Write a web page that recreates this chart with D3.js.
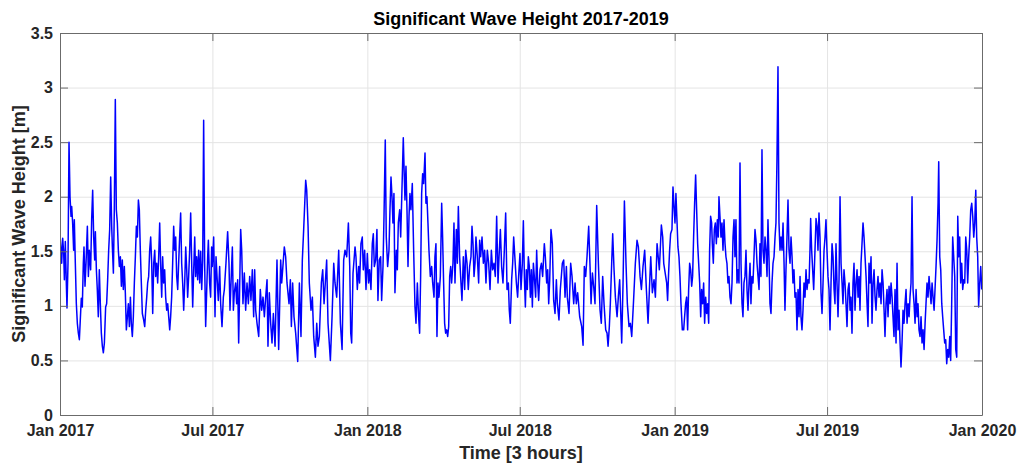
<!DOCTYPE html>
<html>
<head>
<meta charset="utf-8">
<script src="https://cdn.jsdelivr.net/npm/d3@7"></script>
<style>
  html, body { margin: 0; padding: 0; background: #fff; }
  svg { display: block; font-family: "Liberation Sans", Arial, Helvetica, sans-serif; }
</style>
</head>
<body>
<svg id="chart" width="1019" height="466"></svg>
<script>
// Significant wave height samples: [days since 1 Jan 2017, Hs in metres]
const hs2017 = [[0,1.66],[1.2,1.51],[2,1.39],[3.2,1.62],[4.4,1.48],[5.2,1.24],[6.3,1.59],[7.5,1.21],[8.3,0.98],[9.5,1.39],[10.7,2.50],[11.9,2.00],[13.1,1.82],[13.9,1.91],[15,1.76],[16.2,1.51],[17,1.79],[18.2,1.39],[19.4,1.02],[20.6,0.84],[21.8,0.75],[23,0.69],[24.1,0.87],[25.3,1.07],[26.5,0.99],[27.7,1.39],[28.5,1.54],[29.7,1.18],[30.9,1.39],[32.5,1.73],[33.7,1.27],[34.8,1.51],[36.4,1.33],[37.6,1.79],[38.8,2.06],[40,1.63],[41.2,1.42],[42,1.68],[43.2,1.33],[44.3,1.15],[45.5,0.90],[46.7,1.33],[47.9,1.02],[49.1,0.75],[50.3,0.63],[51.5,0.57],[52.7,0.66],[54.2,0.99],[55.4,1.02],[56.6,1.24],[57.8,1.51],[59,1.70],[60.2,2.18],[61.4,1.73],[62.2,1.54],[63.4,1.30],[64.5,1.88],[65.7,2.89],[66.9,1.88],[68.1,1.76],[69.3,1.51],[70.5,1.36],[71.7,1.45],[72.9,1.18],[74,1.42],[75.2,1.15],[76.4,1.36],[77.6,1.12],[78.8,0.78],[80,0.90],[81.2,1.02],[82.4,0.81],[83.6,1.08],[84.7,0.84],[85.9,0.72],[87.1,0.90],[88.3,1.21],[89.5,1.45],[90.7,1.73],[91.9,1.63],[93.1,1.97],[94.2,1.88],[95.4,1.51],[96.6,1.21],[97.8,0.93],[99.4,0.87],[100.6,0.81],[101.8,0.96],[103,1.08],[104.1,1.21],[105.3,1.27],[106.5,1.51],[107.7,1.63],[108.9,1.39],[110.1,0.93],[111.3,1.39],[112.5,1.51],[113.6,1.27],[114.8,1.39],[116,1.21],[117.2,1.45],[118.4,1.76],[119.6,1.36],[120.8,1.08],[121.9,1.45],[123.1,1.21],[124.3,1.33],[125.5,1.08],[126.7,0.96],[127.9,1.02],[129.1,0.90],[130.3,0.78],[131.4,0.90],[132.6,1.08],[133.8,1.39],[135,1.73],[136.2,1.51],[137.4,1.63],[138.6,1.27],[139.8,1.15],[140.9,1.39],[142.1,1.63],[143.3,1.85],[144.5,1.39],[145.7,1.21],[146.9,0.96],[148.1,1.21],[149.3,1.54],[150.5,1.33],[151.6,1.08],[152.8,1.27],[154,1.51],[155.2,1.85],[156.4,1.39],[157.6,0.99],[158.8,1.33],[160,1.63],[161.1,1.27],[162.3,1.45],[163.5,1.24],[164.7,1.51],[165.9,1.21],[167.1,1.50],[168.3,1.15],[169.5,1.42],[170.6,2.70],[171.8,1.39],[173,0.81],[175.4,1.45],[176.2,1.60],[177.7,1.21],[178.9,1.08],[180.1,1.54],[180.9,1.36],[182.5,1.63],[184.1,0.90],[185.3,1.45],[186.9,1.21],[188,1.05],[189.6,1.36],[190.8,1.02],[192.4,0.81],[194,1.08],[195.2,1.15],[197.1,1.39],[199.1,1.68],[200.7,1.39],[201.9,0.96],[203.1,1.21],[204.7,1.54],[205.9,0.96],[207,1.12],[208.6,1.21],[209.8,1.02],[211,1.24],[212.2,0.66],[214.6,1.70],[215.8,1.51],[217.3,1.02],[218.9,1.30],[220.5,0.96],[222.1,1.21],[223.7,1.02],[225.3,1.27],[226.8,1.05],[228.4,1.33],[230,0.90],[231.2,1.33],[232.4,0.96],[234,0.84],[236,0.72],[237.9,1.15],[239.5,0.96],[241.1,1.08],[242.7,0.90],[244.3,1.08],[245.9,1.24],[247,0.63],[248.6,1.12],[250.2,0.84],[251.8,0.66],[253.4,0.93],[255.4,0.63],[257.7,1.42],[259.7,0.60],[262.1,1.42],[263.3,1.21],[266.4,1.54],[268,1.45],[269.6,1.21],[272,1.02],[273.6,1.24],[274.8,0.81],[276.3,1.21],[277.9,0.90],[279.9,0.75],[282.3,0.49],[284.3,1.21],[286.2,0.72],[287.8,1.42],[289.4,1.70],[291.8,2.15],[293,2.06],[294.6,1.73],[296.1,1.21],[298.1,0.96],[299.7,1.08],[301.3,0.72],[303.3,0.53],[304.9,0.84],[306.4,0.63],[308,0.72],[310.4,1.21],[312,1.33],[313.6,1.02],[316.7,1.42],[318.3,0.84],[321.1,0.50],[323.1,0.90],[325.1,1.39],[326.6,1.21],[328.6,1.08],[331,1.51],[333,0.84],[335,0.60],[336.9,1.42],[338.5,1.51],[340.5,1.45],[342.5,1.76],[344.1,1.36],[345.3,0.75],[346.4,0.66],[348,1.30],[350.4,1.54],[351.5,1.45],[353.1,1.15],[354.7,1.36],[355.8,1.21],[357.4,1.57],[359,1.63],[360.2,1.33],[361.8,1.51],[363.4,1.15]];

const hs2018 = [[365,1.48],[366.5,1.21],[367.7,1.33],[369.3,1.15],[370.9,1.57],[372.1,1.66],[373.3,1.36],[374.9,1.42],[376.4,1.70],[377.6,1.05],[379.2,1.42],[380.8,1.45],[382,1.05],[383.6,1.36],[384.8,1.82],[386.3,2.52],[387.5,1.63],[389.1,1.36],[390.7,1.51],[391.9,1.88],[393.1,2.18],[394.3,2.00],[395.4,1.76],[396.6,2.03],[397.8,1.12],[399.4,1.51],[400.6,1.33],[401.8,1.76],[403.4,1.88],[404.6,1.63],[406.1,2.06],[407.7,2.54],[408.9,2.18],[409.7,1.97],[410.9,2.28],[412.1,1.88],[413.3,1.36],[414.5,1.82],[415.6,2.03],[416.8,1.88],[418.4,2.12],[420,1.51],[421.6,0.99],[422.8,0.84],[424.4,1.21],[425.9,0.90],[427.1,0.75],[428.3,1.27],[429.5,2.03],[430.7,2.21],[431.9,2.12],[433.5,2.40],[434.6,1.94],[435.8,2.00],[437,1.76],[438.2,1.51],[439.8,1.27],[441.4,1.36],[442.6,1.21],[444.2,1.08],[445.3,1.45],[446.5,1.57],[447.7,0.72],[448.9,1.21],[450.1,1.08],[451.7,1.27],[453.3,1.94],[454.4,1.63],[455.6,1.21],[456.8,0.84],[458,0.75],[459.2,0.78],[460.4,0.72],[461.6,0.81],[462.8,1.27],[464,1.36],[465.1,1.21],[466.7,1.39],[467.9,1.76],[469.1,1.21],[470.7,1.70],[471.9,1.39],[473.1,1.91],[474.6,1.45],[476.2,1.21],[477.4,1.05],[479,1.45],[480.6,1.15],[481.8,1.51],[483.4,1.39],[484.9,1.15],[486.5,1.36],[488.1,1.45],[489.3,1.73],[490.5,1.57],[491.7,1.27],[492.9,1.39],[494,1.63],[495.6,1.45],[497.2,1.21],[498.4,1.60],[499.6,1.45],[501.2,1.63],[502.8,1.39],[504.3,1.51],[505.9,1.21],[507.5,1.51],[509.1,1.39],[510.7,1.15],[512.3,1.51],[513.8,1.33],[515.4,1.39],[517,1.27],[518.6,1.82],[520.2,1.21],[521.4,1.45],[523,1.70],[524.5,1.36],[526.1,1.21],[527.7,1.51],[529.3,1.85],[530.9,1.15],[532.5,1.21],[533.6,0.96],[534.8,0.84],[536.4,1.24],[537.6,1.39],[538.8,1.63],[542,1.21],[543.5,1.08],[544.7,1.27],[546.3,1.48],[547.5,1.15],[549.1,1.39],[550.3,1.78],[551.5,1.27],[552.7,0.99],[553.8,1.33],[555,1.15],[556.2,1.45],[557.4,1.36],[558.6,1.08],[559.8,1.33],[561,0.99],[562.2,1.39],[563.3,1.27],[564.9,1.08],[566.1,1.51],[567.3,1.21],[568.5,1.05],[570.1,1.33],[571.7,1.39],[573.2,1.27],[575.2,1.57],[576.4,1.45],[578,1.21],[579.2,1.33],[580.4,1.02],[581.6,1.24],[583.1,1.70],[584.7,1.57],[586.3,1.05],[587.9,0.93],[589.5,1.24],[590.7,1.02],[592.6,0.87],[594.2,1.15],[596.6,1.39],[598.2,1.42],[599.8,1.08],[601.4,1.36],[602.5,1.08],[604.5,0.93],[606.5,1.39],[608.1,1.27],[610.1,1.02],[611.7,1.21],[613.2,1.02],[614.8,1.12],[617.2,0.90],[619.6,0.81],[621.2,0.64],[622.7,1.36],[624.3,1.27],[625.9,1.45],[627.9,1.73],[629.5,1.36],[630.7,1.02],[632.3,1.30],[633.8,1.18],[635.4,1.02],[637.4,1.92],[639.4,1.39],[641.4,0.96],[642.9,0.84],[644.5,1.27],[646.1,1.02],[648.1,0.78],[649.7,0.75],[650.9,0.63],[652.4,0.81],[653.6,1.02],[655.2,1.39],[656.4,1.66],[658,1.33],[659.6,1.08],[661.6,0.90],[663.1,1.08],[664.7,1.24],[667.1,0.66],[668.7,1.21],[670.3,1.96],[672.2,1.39],[673.8,1.02],[675.8,0.81],[677.4,0.84],[679,0.72],[681,1.02],[683.3,1.39],[685.3,1.60],[686.9,1.54],[688.9,1.27],[690.5,1.15],[692.4,1.36],[694.4,1.51],[696.4,1.15],[698.4,0.84],[700,1.15],[701.6,1.45],[703.5,1.12],[705.5,1.24],[707.1,1.08],[709.1,1.57],[711.8,1.33],[714.2,1.74],[715.8,1.63],[717,1.39],[720.5,1.21],[721.6,1.05],[722.8,1.30],[724,1.51],[725.2,1.66],[726.8,1.70],[728,2.09],[729.2,1.91]];

const hs2019 = [[730.4,1.76],[731.5,2.03],[732.7,1.79],[733.9,1.54],[735.1,1.45],[736.3,1.27],[737.5,1.02],[739.1,0.78],[740.7,0.78],[741.8,0.90],[743,1.02],[744.2,1.08],[745.4,0.78],[746.6,1.15],[747.8,1.39],[749,1.33],[750.2,1.18],[751.3,1.27],[752.5,1.63],[753.7,1.94],[754.9,2.20],[756.1,1.88],[757.3,1.57],[758.5,1.39],[759.7,1.21],[760.9,0.90],[762,1.15],[763.2,1.02],[764.4,1.21],[765.6,0.84],[766.8,1.08],[768,0.93],[769.2,1.02],[770.4,0.84],[771.5,1.51],[772.7,1.82],[773.9,1.76],[774.7,1.57],[775.9,1.39],[777.1,1.70],[778.3,1.76],[779.5,1.57],[780.7,1.79],[781.8,1.63],[782.6,2.00],[783.8,1.82],[785,1.63],[786.2,1.76],[787.4,1.51],[788.6,1.79],[789.8,1.57],[790.9,1.45],[792.1,1.39],[793.3,1.21],[794.5,1.27],[795.7,1.08],[796.9,1.02],[798.1,1.21],[799.3,1.63],[800.5,1.79],[801.6,1.45],[802.8,1.79],[804,1.21],[805.2,1.33],[806.4,1.21],[807.6,2.31],[808.8,1.39],[810,1.02],[811.1,0.90],[812.3,1.21],[813.5,1.27],[814.7,1.51],[815.9,1.15],[817.1,0.96],[818.3,1.21],[819.5,1.39],[820.6,1.02],[821.8,1.27],[823,1.21],[824.2,1.45],[825.4,1.70],[826.6,1.60],[827.8,1.39],[829,1.27],[830.2,1.15],[831.3,1.57],[832.5,1.27],[833.7,2.43],[834.9,1.51],[836.1,1.39],[837.3,1.63],[838.5,1.51],[839.7,1.27],[840.8,1.79],[842,1.45],[843.2,1.02],[844.4,0.93],[845.6,1.21],[846.8,1.39],[848,1.45],[849.2,1.63],[850.3,1.76],[851.5,2.34],[852.7,3.19],[853.9,1.76],[855.1,1.51],[856.3,1.63],[857.5,1.51],[858.7,1.76],[859.9,1.39],[861,0.96],[862.2,1.33],[863.4,1.63],[864.6,1.97],[865.8,1.51],[867,1.39],[868.2,1.63],[869.4,1.45],[870.5,1.21],[871.7,1.33],[872.9,1.08],[874.1,1.12],[875.3,0.78],[876.5,1.15],[877.7,0.90],[878.9,1.27],[880,0.90],[881.2,0.78],[882.4,0.96],[883.6,1.21],[884.8,1.08],[886,1.33],[887.2,1.15],[888.4,1.24],[889.6,1.21],[890.7,1.51],[891.5,1.80],[892.7,1.51],[893.9,1.33],[895.1,1.15],[897.9,1.80],[899.1,1.73],[900.2,1.51],[901.4,1.85],[902.6,1.63],[903.8,1.12],[905,0.93],[906.2,1.21],[907.4,1.51],[908.6,1.63],[909.7,1.79],[910.9,1.51],[912.1,1.27],[913.3,1.15],[914.5,0.78],[915.7,1.21],[916.9,1.57],[918.1,1.45],[919.3,1.15],[920.4,1.02],[921.6,1.57],[922.8,1.21],[924,0.90],[925.2,1.24],[926.4,2.00],[927.6,1.39],[928.8,1.21],[929.9,1.02],[931.1,1.33],[932.3,1.21],[933.5,1.02],[934.7,0.81],[935.9,1.15],[937.1,1.21],[938.3,0.96],[939.4,1.08],[940.6,0.75],[941.8,1.21],[943,1.39],[944.2,0.96],[945.4,1.21],[946.6,1.33],[947.8,1.08],[949,1.27],[950.1,0.96],[951.3,1.39],[952.5,1.57],[953.7,1.76],[954.9,1.63],[956.1,1.45],[957.3,1.27],[958.5,1.02],[959.6,0.81],[960.8,1.39],[962,1.21],[963.2,1.45],[964.4,0.84],[965.6,1.21],[966.8,1.33],[968,1.08],[969.1,0.96],[970.3,1.15],[971.5,1.27],[972.7,1.08],[973.9,1.21],[975.1,1.02],[976.3,1.33],[977.5,1.21],[978.7,0.96],[979.8,0.72],[981,1.02],[982.2,1.15],[983.4,0.90],[984.6,1.18],[985.8,1.02],[987,1.21],[988.2,1.08],[989.3,0.90],[990.5,0.72],[991.7,1.15],[992.9,0.66],[994.1,1.39],[995.3,0.78],[996.5,0.96],[997.7,0.66],[998.8,0.44],[1000,0.66],[1001.2,0.96],[1002.4,0.84],[1003.6,1.02],[1004.8,1.15],[1006,0.84],[1007.2,1.02],[1008.4,0.90],[1009.5,1.08],[1010.7,1.21],[1011.9,2.00],[1013.1,1.15],[1014.3,1.02],[1015.5,0.84],[1016.7,1.15],[1017.9,0.90],[1019,1.02],[1020.2,0.78],[1021.4,0.72],[1022.6,0.90],[1023.8,0.66],[1025,0.78],[1026.2,0.60],[1027.4,0.84],[1028.5,1.02],[1029.7,1.21],[1030.9,1.08],[1032.1,1.27],[1033.3,1.15],[1034.5,1.02],[1035.7,1.21],[1036.9,1.08],[1038.1,0.96],[1039.2,1.15],[1040.4,1.36],[1041.6,1.60],[1042.8,1.94],[1043.6,2.32],[1044.8,1.45],[1046,1.33],[1047.2,1.02],[1048.3,0.90],[1049.5,0.78],[1050.7,0.66],[1051.9,0.69],[1053.1,0.47],[1054.3,0.60],[1055.5,0.53],[1056.7,0.72],[1057.8,0.50],[1059,1.02],[1060.2,1.63],[1061.4,1.45],[1062.6,1.27],[1063.8,0.60],[1065,0.53],[1066.2,1.82],[1067.4,1.45],[1068.5,1.63],[1069.7,1.21],[1070.9,1.39],[1072.1,1.15],[1073.3,1.24],[1074.5,1.21],[1075.7,1.63],[1076.9,1.51],[1078,1.21],[1079.2,1.45],[1080.4,1.63],[1081.6,1.88],[1082.8,1.94],[1084,1.82],[1085.2,1.63],[1086.4,1.76],[1087.6,2.06],[1088.7,1.63],[1089.9,1.45],[1091,0.99],[1092.3,1.21],[1093.5,1.36],[1094.7,1.15]];

const yTicks = [0, 0.5, 1, 1.5, 2, 2.5, 3, 3.5];
const xTickLabels = ["Jan 2017", "Jul 2017", "Jan 2018", "Jul 2018", "Jan 2019", "Jul 2019", "Jan 2020"];
const titleText = "Significant Wave Height 2017-2019";
const xLabelText = "Time [3 hours]";
const yLabelText = "Significant Wave Height [m]";

const t0 = Date.UTC(2017, 0, 1);
const series = hs2017.concat(hs2018, hs2019)
  .map(([d, v]) => ({ date: new Date(t0 + d * 86400000), value: v }));
const xTickDates = xTickLabels.map((_, i) => new Date(Date.UTC(2017 + Math.floor(i / 2), (i % 2) * 6, 1)));

const plotL = 60, plotR = 982, plotT = 33, plotB = 415;
const axisColor = "#262626";

const svg = d3.select("#chart");

const x = d3.scaleUtc()
  .domain([new Date(Date.UTC(2017, 0, 1)), new Date(Date.UTC(2020, 0, 1))])
  .range([plotL, plotR]);
const y = d3.scaleLinear().domain([0, 3.5]).range([plotB, plotT]);

// grid
svg.append("g")
  .attr("transform", `translate(0,${plotB})`)
  .call(d3.axisBottom(x).tickValues(xTickDates).tickSize(-(plotB - plotT)).tickFormat(""))
  .call(g => g.select(".domain").remove())
  .call(g => g.selectAll("line").attr("stroke", "#e4e4e4").attr("stroke-width", 1));
svg.append("g")
  .attr("transform", `translate(${plotL},0)`)
  .call(d3.axisLeft(y).tickValues(yTicks).tickSize(-(plotR - plotL)).tickFormat(""))
  .call(g => g.select(".domain").remove())
  .call(g => g.selectAll("line").attr("stroke", "#e4e4e4").attr("stroke-width", 1));

// data line
svg.append("clipPath").attr("id", "plotClip")
  .append("rect").attr("x", plotL).attr("y", plotT).attr("width", plotR - plotL).attr("height", plotB - plotT);

const line = d3.line().x(d => x(d.date)).y(d => y(d.value));
svg.append("path")
  .datum(series)
  .attr("clip-path", "url(#plotClip)")
  .attr("fill", "none")
  .attr("stroke", "#0000ff")
  .attr("stroke-width", 1.5)
  .attr("stroke-linejoin", "round")
  .attr("d", line);

// box axes with inward ticks
const styleAxis = g => {
  g.select(".domain").attr("stroke", "#6b6b6b").attr("stroke-width", 1);
  g.selectAll(".tick line").attr("stroke", "#6b6b6b").attr("stroke-width", 1);
  g.selectAll("text")
    .attr("fill", axisColor)
    .style("font-family", '"Liberation Sans", Arial, sans-serif')
    .style("font-size", "16px")
    .style("font-weight", "bold");
};

svg.append("g")
  .attr("transform", `translate(0,${plotB})`)
  .call(d3.axisBottom(x).tickValues(xTickDates).tickSizeInner(-8).tickSizeOuter(0).tickPadding(10)
    .tickFormat((d, i) => xTickLabels[i]))
  .call(styleAxis);
svg.append("g")
  .attr("transform", `translate(0,${plotT})`)
  .call(d3.axisTop(x).tickValues(xTickDates).tickSizeInner(-8).tickSizeOuter(0).tickFormat(""))
  .call(styleAxis);
svg.append("g")
  .attr("transform", `translate(${plotL},0)`)
  .call(d3.axisLeft(y).tickValues(yTicks).tickSizeInner(-8).tickSizeOuter(0).tickPadding(7)
    .tickFormat(d3.format("")))
  .call(styleAxis);
svg.append("g")
  .attr("transform", `translate(${plotR},0)`)
  .call(d3.axisRight(y).tickValues(yTicks).tickSizeInner(-8).tickSizeOuter(0).tickFormat(""))
  .call(styleAxis);

// titles
svg.append("text")
  .attr("x", (plotL + plotR) / 2).attr("y", 25)
  .attr("text-anchor", "middle")
  .attr("fill", "#000")
  .style("font-size", "18px").style("font-weight", "bold")
  .text(titleText);

svg.append("text")
  .attr("x", (plotL + plotR) / 2).attr("y", 459)
  .attr("text-anchor", "middle")
  .attr("fill", axisColor)
  .style("font-size", "18px").style("font-weight", "bold")
  .text(xLabelText);

svg.append("text")
  .attr("transform", `translate(25,${(plotT + plotB) / 2}) rotate(-90)`)
  .attr("text-anchor", "middle")
  .attr("fill", axisColor)
  .style("font-size", "18px").style("font-weight", "bold")
  .text(yLabelText);
</script>
</body>
</html>
